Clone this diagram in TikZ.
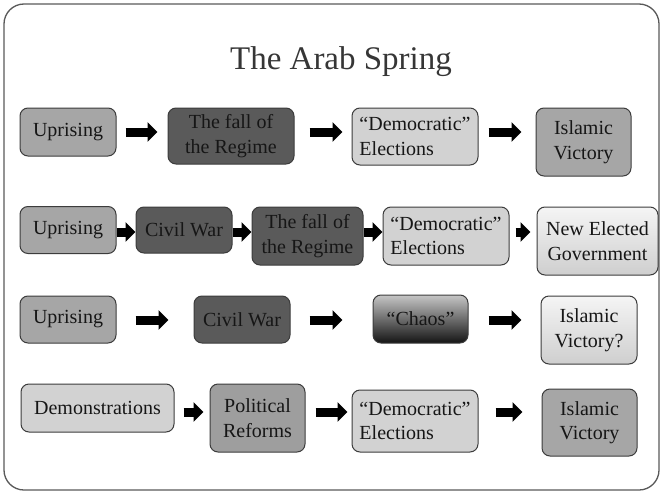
\documentclass[tikz,border=0pt]{standalone}
\usepackage{fontspec}
\setmainfont{Liberation Serif}
\usepackage{tikz}
\usetikzlibrary{arrows.meta}

\definecolor{inkgray}{HTML}{161616}
\definecolor{edgegray}{HTML}{3C3C3C}
\definecolor{midfill}{HTML}{A6A6A6}
\definecolor{darkfill}{HTML}{5A5A5A}
\definecolor{lightfill}{HTML}{D2D2D2}

\begin{document}
\begin{tikzpicture}[x=1pt,y=-1pt,
    box/.style={draw=edgegray,line width=1pt,rounded corners=8pt,inner sep=0pt,
        text=inkgray,font=\fontsize{20}{24.5}\selectfont,align=center},
    mid/.style={box,fill=midfill},
    dark/.style={box,fill=darkfill},
    light/.style={box,fill=lightfill},
    fade/.style={box,top color=gray!8,bottom color=gray!38},
    fat/.style={line width=9pt,-{Triangle[length=10pt,width=19pt]}}]
    \useasboundingbox (0,0) rectangle (660,492);
    \draw[edgegray!85,line width=1.3pt,rounded corners=20pt] (4,4) rectangle (659,490);
    \node[text=edgegray!90!black,font=\fontsize{33}{38}\selectfont] (title) at (341,62) {The Arab Spring};
    \coordinate (r1) at (0,132);
    \coordinate (r2) at (0,232);
    \coordinate (r3) at (0,320);
    \coordinate (r4) at (0,412);
    \node[mid,minimum width=96pt,minimum height=48pt] (u1) at (68,132) {Uprising};
    \node[dark,minimum width=126pt,minimum height=56pt] (f1) at (231,136) {The fall of\\the Regime};
    \node[light,minimum width=126pt,minimum height=57pt,align=left] (d1) at (415,136.5) {``Democratic''\\Elections};
    \node[mid,minimum width=95pt,minimum height=68pt] (i1) at (583.5,142) {Islamic\\Victory};
    \node[mid,minimum width=96pt,minimum height=47pt] (u2) at (68,230) {Uprising};
    \node[dark,minimum width=96pt,minimum height=46pt] (c2) at (184,230) {Civil War};
    \node[dark,minimum width=111pt,minimum height=58pt] (f2) at (307.5,236) {The fall of\\the Regime};
    \node[light,minimum width=126pt,minimum height=58pt,align=left] (d2) at (446,236) {``Democratic''\\Elections};
    \node[fade,minimum width=121pt,minimum height=68pt] (n2) at (597.5,241) {New Elected\\Government};
    \node[mid,minimum width=96pt,minimum height=47pt] (u3) at (68,319.5) {Uprising};
    \node[dark,minimum width=96pt,minimum height=47pt] (c3) at (242,319.5) {Civil War};
    \node[box,top color=gray!45,bottom color=black!92,minimum width=95pt,minimum height=48pt] (ch3) at (420.5,319) {``Chaos''};
    \node[fade,minimum width=96pt,minimum height=68pt] (v3) at (589,330) {Islamic\\Victory?};
    \node[light,minimum width=153pt,minimum height=48pt] (dm4) at (97.5,408) {Demonstrations};
    \node[mid,fill=midfill!95!black,minimum width=95pt,minimum height=68pt] (p4) at (257.5,418) {Political\\Reforms};
    \node[light,minimum width=126pt,minimum height=62pt,align=left] (d4) at (415,421) {``Democratic''\\Elections};
    \node[mid,minimum width=95pt,minimum height=67pt] (i4) at (589.5,422.5) {Islamic\\Victory};
    \draw[fat,shorten <=9pt,shorten >=10pt] (u1.east |- r1) -- (f1.west |- r1);
    \draw[fat,shorten <=15pt,shorten >=9pt] (f1.east |- r1) -- (d1.west |- r1);
    \draw[fat,shorten <=10pt,shorten >=14pt] (d1.east |- r1) -- (i1.west |- r1);
    \draw[fat] (u2.east |- r2) -- (c2.west |- r2);
    \draw[fat] (c2.east |- r2) -- (f2.west |- r2);
    \draw[fat] (f2.east |- r2) -- (d2.west |- r2);
    \draw[fat,shorten <=6pt,shorten >=6pt] (d2.east |- r2) -- (n2.west |- r2);
    \draw[fat,shorten <=19pt,shorten >=25pt] (u3.east |- r3) -- (c3.west |- r3);
    \draw[fat,shorten <=19pt,shorten >=30pt] (c3.east |- r3) -- (ch3.west |- r3);
    \draw[fat,shorten <=20pt,shorten >=19pt] (ch3.east |- r3) -- (v3.west |- r3);
    \draw[fat,shorten <=9pt,shorten >=6pt] (dm4.east |- r4) -- (p4.west |- r4);
    \draw[fat,shorten <=10pt,shorten >=4pt] (p4.east |- r4) -- (d4.west |- r4);
    \draw[fat,shorten <=17pt,shorten >=19pt] (d4.east |- r4) -- (i4.west |- r4);
\end{tikzpicture}
\end{document}
